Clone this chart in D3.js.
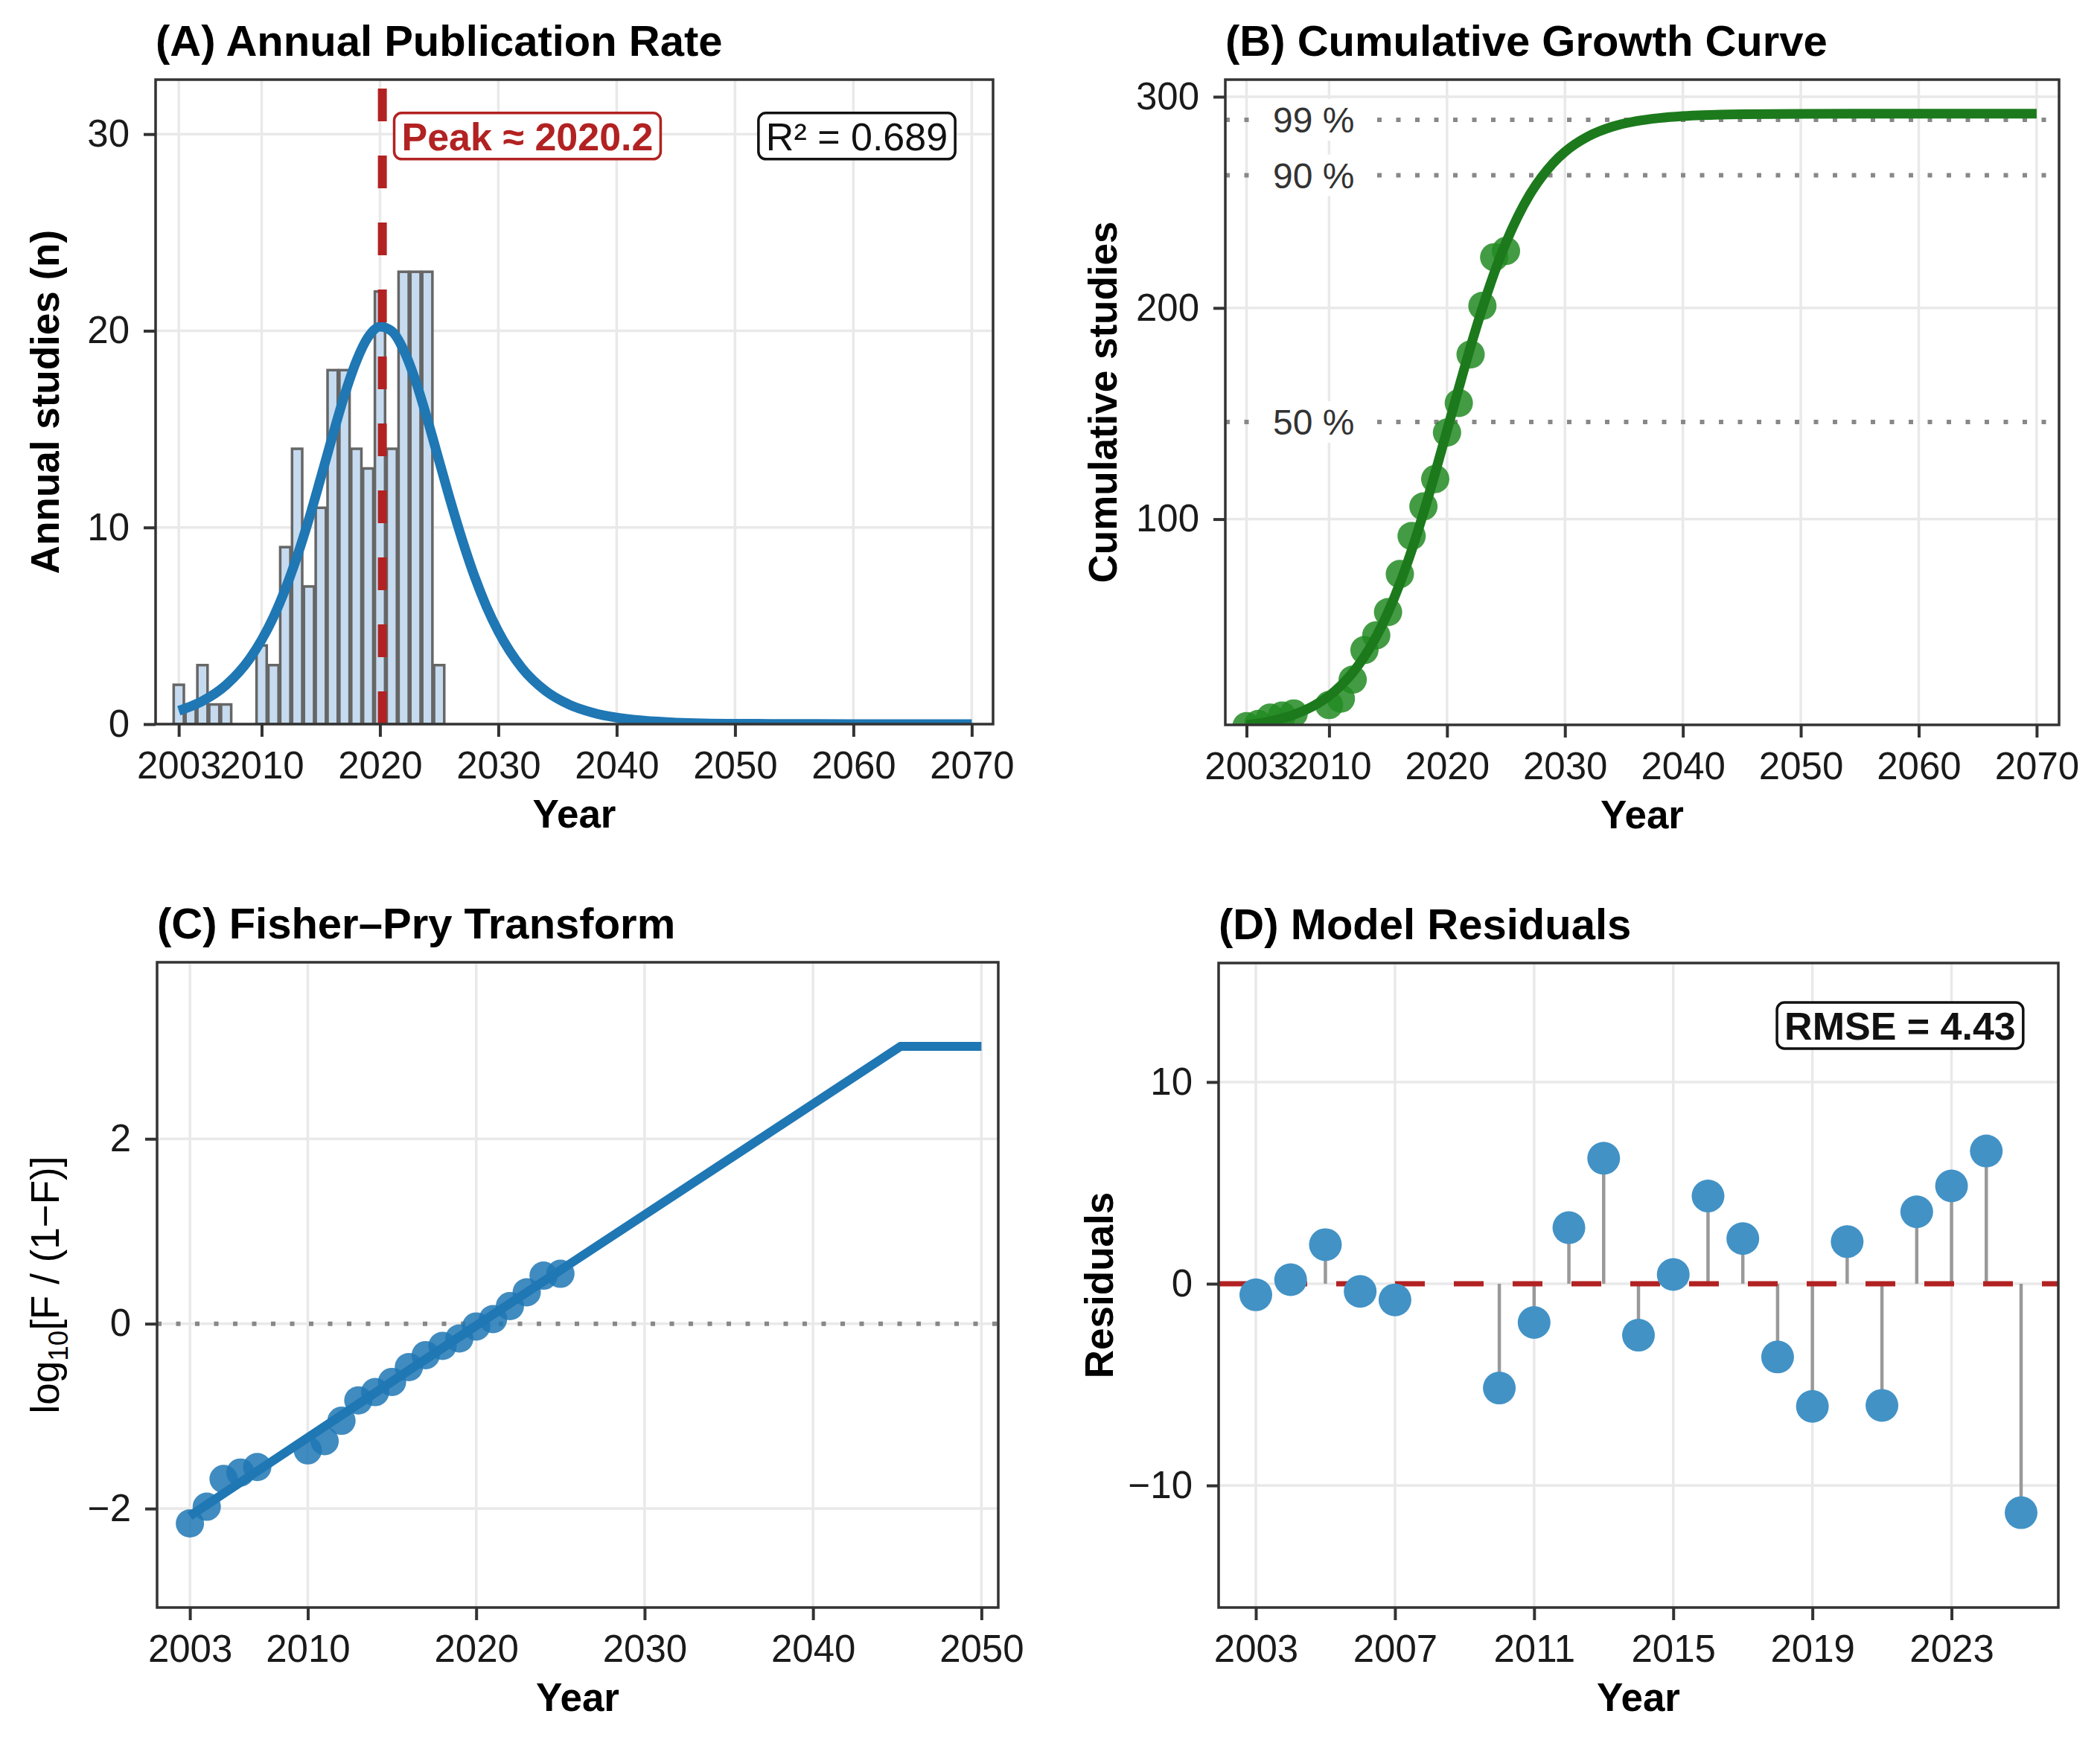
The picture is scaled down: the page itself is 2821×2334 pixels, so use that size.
<!DOCTYPE html>
<html>
<head>
<meta charset="utf-8">
<script src="https://cdn.jsdelivr.net/npm/d3@7"></script>
<style>
  body { margin: 0; background: #fff; }
  svg text { font-family: "Liberation Sans", Arial, Helvetica, sans-serif; }
</style>
</head>
<body>
<svg id="chart" width="2821" height="2334"></svg>
<script>
// ---- data ----
const years = [2003, 2004, 2005, 2006, 2007, 2010, 2011, 2012, 2013, 2014, 2015,
               2016, 2017, 2018, 2019, 2020, 2021, 2022, 2023, 2024, 2025];
const annualStudies = [2, 1, 3, 1, 1, 4, 3, 9, 14, 7, 11, 18, 18, 14, 13, 22, 14, 23, 23, 23, 3];
const cumulativeStudies = [2, 3, 6, 7, 8, 12, 15, 24, 38, 45, 56, 74, 92, 106, 119, 141, 155, 178, 201, 224, 227];
const fisherPryObserved = [-2.16, -1.98, -1.68, -1.61, -1.55, -1.37, -1.27, -1.05, -0.83, -0.74, -0.63,
                           -0.47, -0.34, -0.24, -0.16, -0.03, 0.05, 0.19, 0.34, 0.52, 0.54];
const residuals = [-0.55, 0.2, 1.94, -0.38, -0.8, -5.17, -1.92, 2.78, 6.22, -2.55, 0.46,
                   4.35, 2.24, -3.63, -6.08, 2.09, -6.03, 3.57, 4.85, 6.58, -11.35];

// fitted curves (panels A and B)
const fitYears = [2003, 2005, 2007, 2009, 2010, 2011, 2012, 2013, 2014, 2015, 2016, 2017, 2018,
                  2019, 2020, 2021, 2022, 2023, 2024, 2025, 2026, 2027, 2028, 2029, 2030,
                  2032, 2034, 2036, 2038, 2040, 2045, 2050, 2055, 2060, 2070];
const fitAnnual = [0.68, 1.17, 1.99, 3.33, 4.28, 5.44, 6.86, 8.53, 10.43, 12.53, 14.67, 16.72, 18.45,
                   19.68, 20.21, 19.98, 19.02, 17.47, 15.51, 13.38, 11.25, 9.27, 7.49, 5.97, 4.71,
                   2.85, 1.69, 0.99, 0.58, 0.33, 0.08, 0.02, 0.01, 0, 0];
const fitCumulative = [2.5, 4.3, 7.4, 12.6, 16.3, 21.2, 27.3, 35.0, 44.4, 55.9, 69.5, 85.2, 102.9,
                       122.0, 142.0, 162.1, 181.7, 199.9, 216.5, 230.9, 243.2, 253.5, 261.8, 268.6, 273.9,
                       281.3, 285.8, 288.4, 289.9, 290.8, 291.7, 291.9, 292, 292, 292];

// fitted Fisher-Pry line (panel C), capped at 3
const fpLineYears = [2003, 2020, 2045.2, 2050];
const fpLineValues = [-2.08, -0.02, 3.0, 3.0];

// saturation thresholds (panel B)
const thresholdLabels = ['99 %', '90 %', '50 %'];
const thresholdValues = [289.1, 262.8, 146.0];

const peakYear = 2020.2;
const peakText = 'Peak ≈ 2020.2';
const r2Text = 'R² = 0.689';
const rmseText = 'RMSE = 4.43';

// tick labels
const xTicksLong = [2003, 2010, 2020, 2030, 2040, 2050, 2060, 2070];
const xTicksC = [2003, 2010, 2020, 2030, 2040, 2050];
const xTicksD = [2003, 2007, 2011, 2015, 2019, 2023];
const yTicksA = [0, 10, 20, 30];
const yTicksB = [100, 200, 300];
const yTicksC = [-2, 0, 2];
const yTicksD = [-10, 0, 10];

const svg = d3.select('#chart');
const defs = svg.append('defs');
const red = '#B22222';
const blue = '#1f77b4';

function makePanel(p) {
  const g = svg.append('g').attr('transform', `translate(${p.left},${p.top})`);
  const x = d3.scaleLinear().domain(p.xDomain).range([0, p.width]);
  const y = d3.scaleLinear().domain(p.yDomain).range([p.height, 0]);

  // grid
  g.append('g').selectAll('line').data(p.xTicks).join('line')
    .attr('x1', d => x(d)).attr('x2', d => x(d))
    .attr('y1', 0).attr('y2', p.height)
    .attr('stroke', '#e9e9e9').attr('stroke-width', 3.5);
  g.append('g').selectAll('line').data(p.yTicks).join('line')
    .attr('y1', d => y(d)).attr('y2', d => y(d))
    .attr('x1', 0).attr('x2', p.width)
    .attr('stroke', '#e9e9e9').attr('stroke-width', 3.5);

  defs.append('clipPath').attr('id', 'clip-' + p.id)
    .append('rect').attr('width', p.width).attr('height', p.height);
  const plot = g.append('g').attr('clip-path', `url(#clip-${p.id})`);

  return { g, plot, x, y, p };
}

function finishPanel(panel) {
  const { g, x, y, p } = panel;
  g.append('rect').attr('width', p.width).attr('height', p.height)
    .attr('fill', 'none').attr('stroke', '#333').attr('stroke-width', 3.5);

  let xAxis = g.append('g').attr('transform', `translate(0,${p.height})`)
    .call(d3.axisBottom(x).tickValues(p.xTicks).tickFormat(d3.format('d')).tickSize(17).tickPadding(20));
  let yAxis = g.append('g')
    .call(d3.axisLeft(y).tickValues(p.yTicks).tickFormat(d3.format('d')).tickSize(16).tickPadding(19));
  [xAxis, yAxis].forEach(a => {
    a.select('.domain').remove();
    a.selectAll('line').attr('stroke', '#333').attr('stroke-width', 4);
    a.selectAll('text').attr('font-size', 51).attr('fill', '#1a1a1a')
      .attr('font-family', '"Liberation Sans", Arial, sans-serif');
  });

  // titles
  g.append('text').attr('x', 0).attr('y', -32)
    .attr('font-size', 58).attr('font-weight', 'bold').attr('fill', '#000')
    .text(p.title);
  g.append('text').attr('x', p.width / 2).attr('y', p.height + 139)
    .attr('text-anchor', 'middle').attr('font-size', 53).attr('font-weight', 'bold')
    .text('Year');

  let yt = g.append('text')
    .attr('transform', `translate(${-p.yTitleOffset},${p.height / 2}) rotate(-90)`)
    .attr('text-anchor', 'middle').attr('font-size', 53)
    .attr('font-weight', p.yTitleBold ? 'bold' : 'normal');
  if (p.yTitle === 'fisher') {
    yt.append('tspan').text('log');
    yt.append('tspan').attr('font-size', 37).attr('dy', 12).text('10');
    yt.append('tspan').attr('dy', -12).text('[F / (1\u2212F)]');
  } else {
    yt.text(p.yTitle);
  }
}

function boxLabel(g, opts) {
  const t = g.append('text')
    .attr('font-size', opts.size).attr('font-weight', opts.weight)
    .attr('fill', opts.color).attr('y', opts.cy + opts.size * 0.36)
    .text(opts.text);
  const w = t.node().getComputedTextLength();
  const padX = 10, h = 62;
  const left = opts.anchor === 'start' ? opts.x : opts.x - w - 2 * padX;
  t.attr('x', left + padX);
  g.insert('rect', () => t.node())
    .attr('x', left).attr('y', opts.cy - h / 2)
    .attr('width', w + 2 * padX).attr('height', h)
    .attr('rx', 10).attr('ry', 10)
    .attr('fill', '#fff').attr('stroke', opts.border).attr('stroke-width', 3.5);
}

// ---- (A) Annual Publication Rate ----
let A = makePanel({
  id: 'a', left: 209, top: 107, width: 1125, height: 866,
  xDomain: [2001.04, 2071.8], yDomain: [0, 32.77],
  xTicks: xTicksLong, yTicks: yTicksA,
  title: '(A) Annual Publication Rate', yTitle: 'Annual studies (n)', yTitleBold: true, yTitleOffset: 130
});

A.plot.append('g').selectAll('rect').data(years).join('rect')
  .attr('x', d => A.x(d - 0.43))
  .attr('width', d => A.x(d + 0.43) - A.x(d - 0.43))
  .attr('y', (d, i) => A.y(annualStudies[i]))
  .attr('height', (d, i) => A.y(0) - A.y(annualStudies[i]))
  .attr('fill', '#c6dbef').attr('stroke', '#666').attr('stroke-width', 3.5);

let lineA = d3.line().x(d => A.x(d[0])).y(d => A.y(d[1])).curve(d3.curveMonotoneX);
A.plot.append('path').datum(fitYears.map((yr, i) => [yr, fitAnnual[i]]))
  .attr('d', lineA).attr('fill', 'none').attr('stroke', blue).attr('stroke-width', 13);

A.plot.append('line')
  .attr('x1', A.x(peakYear)).attr('x2', A.x(peakYear))
  .attr('y1', A.p.height).attr('y2', 0)
  .attr('stroke', red).attr('stroke-width', 12).attr('stroke-dasharray', '44 46');

boxLabel(A.g, { x: A.x(2021.2), cy: A.y(29.9), anchor: 'start', text: peakText,
  size: 52, weight: 'bold', color: red, border: red });
boxLabel(A.g, { x: A.x(2068.6), cy: A.y(29.9), anchor: 'end', text: r2Text,
  size: 52, weight: 'normal', color: '#111', border: '#111' });
finishPanel(A);

// ---- (B) Cumulative Growth Curve ----
let B = makePanel({
  id: 'b', left: 1646, top: 107, width: 1120, height: 867,
  xDomain: [2001.2, 2071.9], yDomain: [2.6, 308.1],
  xTicks: xTicksLong, yTicks: yTicksB,
  title: '(B) Cumulative Growth Curve', yTitle: 'Cumulative studies', yTitleBold: true, yTitleOffset: 146
});

B.plot.append('g').selectAll('line').data(thresholdValues).join('line')
  .attr('x1', 0).attr('x2', B.p.width)
  .attr('y1', d => B.y(d)).attr('y2', d => B.y(d))
  .attr('stroke', '#888').attr('stroke-width', 6).attr('stroke-dasharray', '6 19.5');

thresholdValues.forEach((v, i) => {
  B.plot.append('rect')
    .attr('x', B.x(2003.6)).attr('width', B.x(2013.7) - B.x(2003.6))
    .attr('y', B.y(v) - 28).attr('height', 56).attr('fill', '#fff');
  B.plot.append('text')
    .attr('x', B.x(2008.7)).attr('y', B.y(v) + 17)
    .attr('text-anchor', 'middle').attr('font-size', 48).attr('fill', '#333')
    .text(thresholdLabels[i]);
});

B.plot.append('g').selectAll('circle').data(years).join('circle')
  .attr('cx', d => B.x(d)).attr('cy', (d, i) => B.y(cumulativeStudies[i]))
  .attr('r', 19).attr('fill', '#228B22').attr('fill-opacity', 0.85);

let lineB = d3.line().x(d => B.x(d[0])).y(d => B.y(d[1])).curve(d3.curveMonotoneX);
B.plot.append('path').datum(fitYears.map((yr, i) => [yr, fitCumulative[i]]))
  .attr('d', lineB).attr('fill', 'none').attr('stroke', '#1c7a1c').attr('stroke-width', 13);
finishPanel(B);

// ---- (C) Fisher–Pry Transform ----
let C = makePanel({
  id: 'c', left: 211, top: 1293, width: 1130, height: 867,
  xDomain: [2001.05, 2051], yDomain: [-3.07, 3.91],
  xTicks: xTicksC, yTicks: yTicksC,
  title: '(C) Fisher\u2013Pry Transform', yTitle: 'fisher', yTitleBold: false, yTitleOffset: 132
});

C.plot.append('line')
  .attr('x1', 0).attr('x2', C.p.width).attr('y1', C.y(0)).attr('y2', C.y(0))
  .attr('stroke', '#888').attr('stroke-width', 6).attr('stroke-dasharray', '6 19.5');

C.plot.append('g').selectAll('circle').data(years).join('circle')
  .attr('cx', d => C.x(d)).attr('cy', (d, i) => C.y(fisherPryObserved[i]))
  .attr('r', 19).attr('fill', blue).attr('fill-opacity', 0.85);

let lineC = d3.line().x(d => C.x(d[0])).y(d => C.y(d[1]));
C.plot.append('path').datum(fpLineYears.map((yr, i) => [yr, fpLineValues[i]]))
  .attr('d', lineC).attr('fill', 'none').attr('stroke', blue).attr('stroke-width', 12);
finishPanel(C);

// ---- (D) Model Residuals ----
let D = makePanel({
  id: 'd', left: 1637, top: 1294, width: 1128, height: 866,
  xDomain: [2001.93, 2026.07], yDomain: [-16.05, 15.9],
  xTicks: xTicksD, yTicks: yTicksD,
  title: '(D) Model Residuals', yTitle: 'Residuals', yTitleBold: true, yTitleOffset: 142
});

D.plot.append('g').selectAll('line').data(years).join('line')
  .attr('x1', d => D.x(d)).attr('x2', d => D.x(d))
  .attr('y1', D.y(0)).attr('y2', (d, i) => D.y(residuals[i]))
  .attr('stroke', '#999').attr('stroke-width', 4.5);

D.plot.append('line')
  .attr('x1', 0).attr('x2', D.p.width).attr('y1', D.y(0)).attr('y2', D.y(0))
  .attr('stroke', red).attr('stroke-width', 7).attr('stroke-dasharray', '40 39');

D.plot.append('g').selectAll('circle').data(years).join('circle')
  .attr('cx', d => D.x(d)).attr('cy', (d, i) => D.y(residuals[i]))
  .attr('r', 22).attr('fill', '#4292c6');

boxLabel(D.g, { x: D.x(2025.06), cy: D.y(12.8), anchor: 'end', text: rmseText,
  size: 52, weight: 'bold', color: '#111', border: '#111' });
finishPanel(D);
</script>
</body>
</html>
